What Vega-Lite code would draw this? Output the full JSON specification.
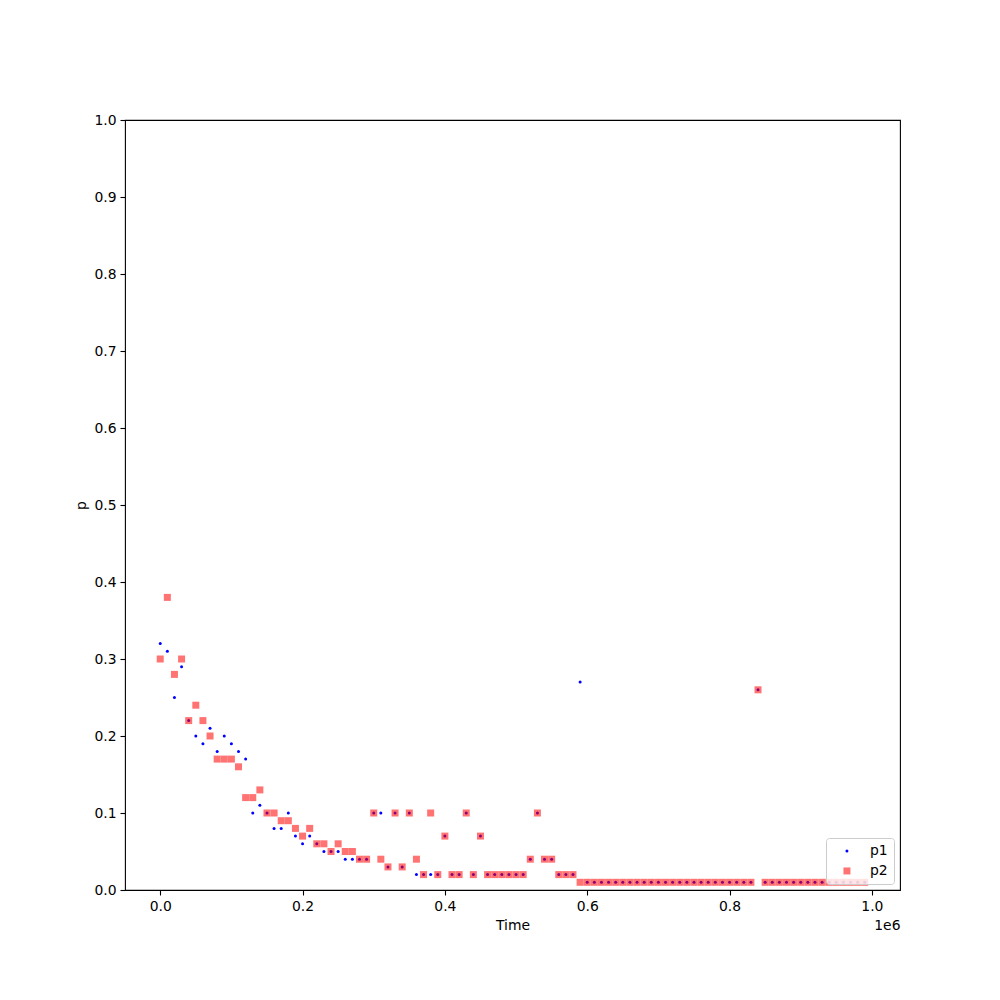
{
  "$schema": "https://vega.github.io/schema/vega-lite/v6.json",
  "width": 775,
  "height": 770,
  "autosize": {"type": "none"},
  "padding": {"left": 125, "top": 120, "right": 100, "bottom": 110},
  "background": "white",
  "config": {
    "font": "DejaVu Sans",
    "view": {"stroke": "black", "strokeWidth": 1.1},
    "axis": {
      "grid": false,
      "domain": false,
      "tickColor": "black",
      "tickSize": 5,
      "tickWidth": 1.1,
      "labelFontSize": 13.9,
      "labelColor": "black",
      "labelPadding": 4,
      "titleFontSize": 13.9,
      "titleFontWeight": "normal",
      "titleColor": "black"
    },
    "legend": {
      "orient": "bottom-right",
      "offset": 6,
      "padding": 6,
      "strokeColor": "#cccccc",
      "fillColor": "rgba(255,255,255,0.8)",
      "cornerRadius": 3,
      "labelFontSize": 13.9,
      "labelColor": "black",
      "symbolOffset": 8,
      "labelOffset": 16,
      "rowPadding": 5,
      "symbolStrokeWidth": 0
    }
  },
  "data": {
    "values": [
      {"t": 0, "p1": 0.32, "p2": 0.30},
      {"t": 10000, "p1": 0.31, "p2": 0.38},
      {"t": 20000, "p1": 0.25, "p2": 0.28},
      {"t": 30000, "p1": 0.29, "p2": 0.30},
      {"t": 40000, "p1": 0.22, "p2": 0.22},
      {"t": 50000, "p1": 0.20, "p2": 0.24},
      {"t": 60000, "p1": 0.19, "p2": 0.22},
      {"t": 70000, "p1": 0.21, "p2": 0.20},
      {"t": 80000, "p1": 0.18, "p2": 0.17},
      {"t": 90000, "p1": 0.20, "p2": 0.17},
      {"t": 100000, "p1": 0.19, "p2": 0.17},
      {"t": 110000, "p1": 0.18, "p2": 0.16},
      {"t": 120000, "p1": 0.17, "p2": 0.12},
      {"t": 130000, "p1": 0.10, "p2": 0.12},
      {"t": 140000, "p1": 0.11, "p2": 0.13},
      {"t": 150000, "p1": 0.10, "p2": 0.10},
      {"t": 160000, "p1": 0.08, "p2": 0.10},
      {"t": 170000, "p1": 0.08, "p2": 0.09},
      {"t": 180000, "p1": 0.10, "p2": 0.09},
      {"t": 190000, "p1": 0.07, "p2": 0.08},
      {"t": 200000, "p1": 0.06, "p2": 0.07},
      {"t": 210000, "p1": 0.07, "p2": 0.08},
      {"t": 220000, "p1": 0.06, "p2": 0.06},
      {"t": 230000, "p1": 0.05, "p2": 0.06},
      {"t": 240000, "p1": 0.05, "p2": 0.05},
      {"t": 250000, "p1": 0.05, "p2": 0.06},
      {"t": 260000, "p1": 0.04, "p2": 0.05},
      {"t": 270000, "p1": 0.04, "p2": 0.05},
      {"t": 280000, "p1": 0.04, "p2": 0.04},
      {"t": 290000, "p1": 0.04, "p2": 0.04},
      {"t": 300000, "p1": 0.10, "p2": 0.10},
      {"t": 310000, "p1": 0.10, "p2": 0.04},
      {"t": 320000, "p1": 0.03, "p2": 0.03},
      {"t": 330000, "p1": 0.10, "p2": 0.10},
      {"t": 340000, "p1": 0.03, "p2": 0.03},
      {"t": 350000, "p1": 0.10, "p2": 0.10},
      {"t": 360000, "p1": 0.02, "p2": 0.04},
      {"t": 370000, "p1": 0.02, "p2": 0.02},
      {"t": 380000, "p1": 0.02, "p2": 0.10},
      {"t": 390000, "p1": 0.02, "p2": 0.02},
      {"t": 400000, "p1": 0.07, "p2": 0.07},
      {"t": 410000, "p1": 0.02, "p2": 0.02},
      {"t": 420000, "p1": 0.02, "p2": 0.02},
      {"t": 430000, "p1": 0.10, "p2": 0.10},
      {"t": 440000, "p1": 0.02, "p2": 0.02},
      {"t": 450000, "p1": 0.07, "p2": 0.07},
      {"t": 460000, "p1": 0.02, "p2": 0.02},
      {"t": 470000, "p1": 0.02, "p2": 0.02},
      {"t": 480000, "p1": 0.02, "p2": 0.02},
      {"t": 490000, "p1": 0.02, "p2": 0.02},
      {"t": 500000, "p1": 0.02, "p2": 0.02},
      {"t": 510000, "p1": 0.02, "p2": 0.02},
      {"t": 520000, "p1": 0.04, "p2": 0.04},
      {"t": 530000, "p1": 0.10, "p2": 0.10},
      {"t": 540000, "p1": 0.04, "p2": 0.04},
      {"t": 550000, "p1": 0.04, "p2": 0.04},
      {"t": 560000, "p1": 0.02, "p2": 0.02},
      {"t": 570000, "p1": 0.02, "p2": 0.02},
      {"t": 580000, "p1": 0.02, "p2": 0.02},
      {"t": 590000, "p1": 0.27, "p2": 0.01},
      {"t": 600000, "p1": 0.01, "p2": 0.01},
      {"t": 610000, "p1": 0.01, "p2": 0.01},
      {"t": 620000, "p1": 0.01, "p2": 0.01},
      {"t": 630000, "p1": 0.01, "p2": 0.01},
      {"t": 640000, "p1": 0.01, "p2": 0.01},
      {"t": 650000, "p1": 0.01, "p2": 0.01},
      {"t": 660000, "p1": 0.01, "p2": 0.01},
      {"t": 670000, "p1": 0.01, "p2": 0.01},
      {"t": 680000, "p1": 0.01, "p2": 0.01},
      {"t": 690000, "p1": 0.01, "p2": 0.01},
      {"t": 700000, "p1": 0.01, "p2": 0.01},
      {"t": 710000, "p1": 0.01, "p2": 0.01},
      {"t": 720000, "p1": 0.01, "p2": 0.01},
      {"t": 730000, "p1": 0.01, "p2": 0.01},
      {"t": 740000, "p1": 0.01, "p2": 0.01},
      {"t": 750000, "p1": 0.01, "p2": 0.01},
      {"t": 760000, "p1": 0.01, "p2": 0.01},
      {"t": 770000, "p1": 0.01, "p2": 0.01},
      {"t": 780000, "p1": 0.01, "p2": 0.01},
      {"t": 790000, "p1": 0.01, "p2": 0.01},
      {"t": 800000, "p1": 0.01, "p2": 0.01},
      {"t": 810000, "p1": 0.01, "p2": 0.01},
      {"t": 820000, "p1": 0.01, "p2": 0.01},
      {"t": 830000, "p1": 0.01, "p2": 0.01},
      {"t": 840000, "p1": 0.26, "p2": 0.26},
      {"t": 850000, "p1": 0.01, "p2": 0.01},
      {"t": 860000, "p1": 0.01, "p2": 0.01},
      {"t": 870000, "p1": 0.01, "p2": 0.01},
      {"t": 880000, "p1": 0.01, "p2": 0.01},
      {"t": 890000, "p1": 0.01, "p2": 0.01},
      {"t": 900000, "p1": 0.01, "p2": 0.01},
      {"t": 910000, "p1": 0.01, "p2": 0.01},
      {"t": 920000, "p1": 0.01, "p2": 0.01},
      {"t": 930000, "p1": 0.01, "p2": 0.01},
      {"t": 940000, "p1": 0.01, "p2": 0.01},
      {"t": 950000, "p1": 0.01, "p2": 0.01},
      {"t": 960000, "p1": 0.01, "p2": 0.01},
      {"t": 970000, "p1": 0.01, "p2": 0.01},
      {"t": 980000, "p1": 0.01, "p2": 0.01},
      {"t": 990000, "p1": 0.01, "p2": 0.01}
    ]
  },
  "transform": [{"fold": ["p1", "p2"], "as": ["series", "p"]}],
  "layer": [
    {
      "mark": {"type": "point", "filled": true, "strokeWidth": 0},
      "encoding": {
        "x": {
          "field": "t",
          "type": "quantitative",
          "scale": {"domain": [-49500, 1039500], "nice": false, "zero": false},
          "axis": {
            "values": [0, 200000, 400000, 600000, 800000, 1000000],
            "labelExpr": "format(datum.value / 1000000, '.1f')",
            "title": "Time",
            "titlePadding": 6
          }
        },
        "y": {
          "field": "p",
          "type": "quantitative",
          "scale": {"domain": [0, 1], "nice": false, "zero": false},
          "axis": {
            "values": [0, 0.1, 0.2, 0.3, 0.4, 0.5, 0.6, 0.7, 0.8, 0.9, 1.0],
            "format": ".1f",
            "title": "p",
            "titlePadding": 5
          }
        },
        "color": {
          "field": "series",
          "type": "nominal",
          "scale": {"domain": ["p1", "p2"], "range": ["#0000ff", "#ff0000"]},
          "legend": {"title": null}
        },
        "shape": {
          "field": "series",
          "type": "nominal",
          "scale": {"domain": ["p1", "p2"], "range": ["circle", "square"]},
          "legend": {"title": null}
        },
        "size": {
          "field": "series",
          "type": "nominal",
          "scale": {"type": "ordinal", "domain": ["p1", "p2"], "range": [9, 49]},
          "legend": {"title": null}
        },
        "opacity": {
          "field": "series",
          "type": "nominal",
          "scale": {"type": "ordinal", "domain": ["p1", "p2"], "range": [1, 0.55]},
          "legend": {"title": null}
        }
      }
    },
    {
      "mark": {"type": "point", "opacity": 0},
      "encoding": {
        "x": {
          "field": "t",
          "type": "quantitative",
          "axis": {
            "orient": "bottom",
            "labels": false,
            "ticks": false,
            "domain": false,
            "title": "1e6",
            "titleAnchor": "end",
            "titlePadding": 28
          }
        },
        "y": {"field": "p", "type": "quantitative"}
      }
    }
  ],
  "resolve": {"axis": {"x": "independent"}}
}
